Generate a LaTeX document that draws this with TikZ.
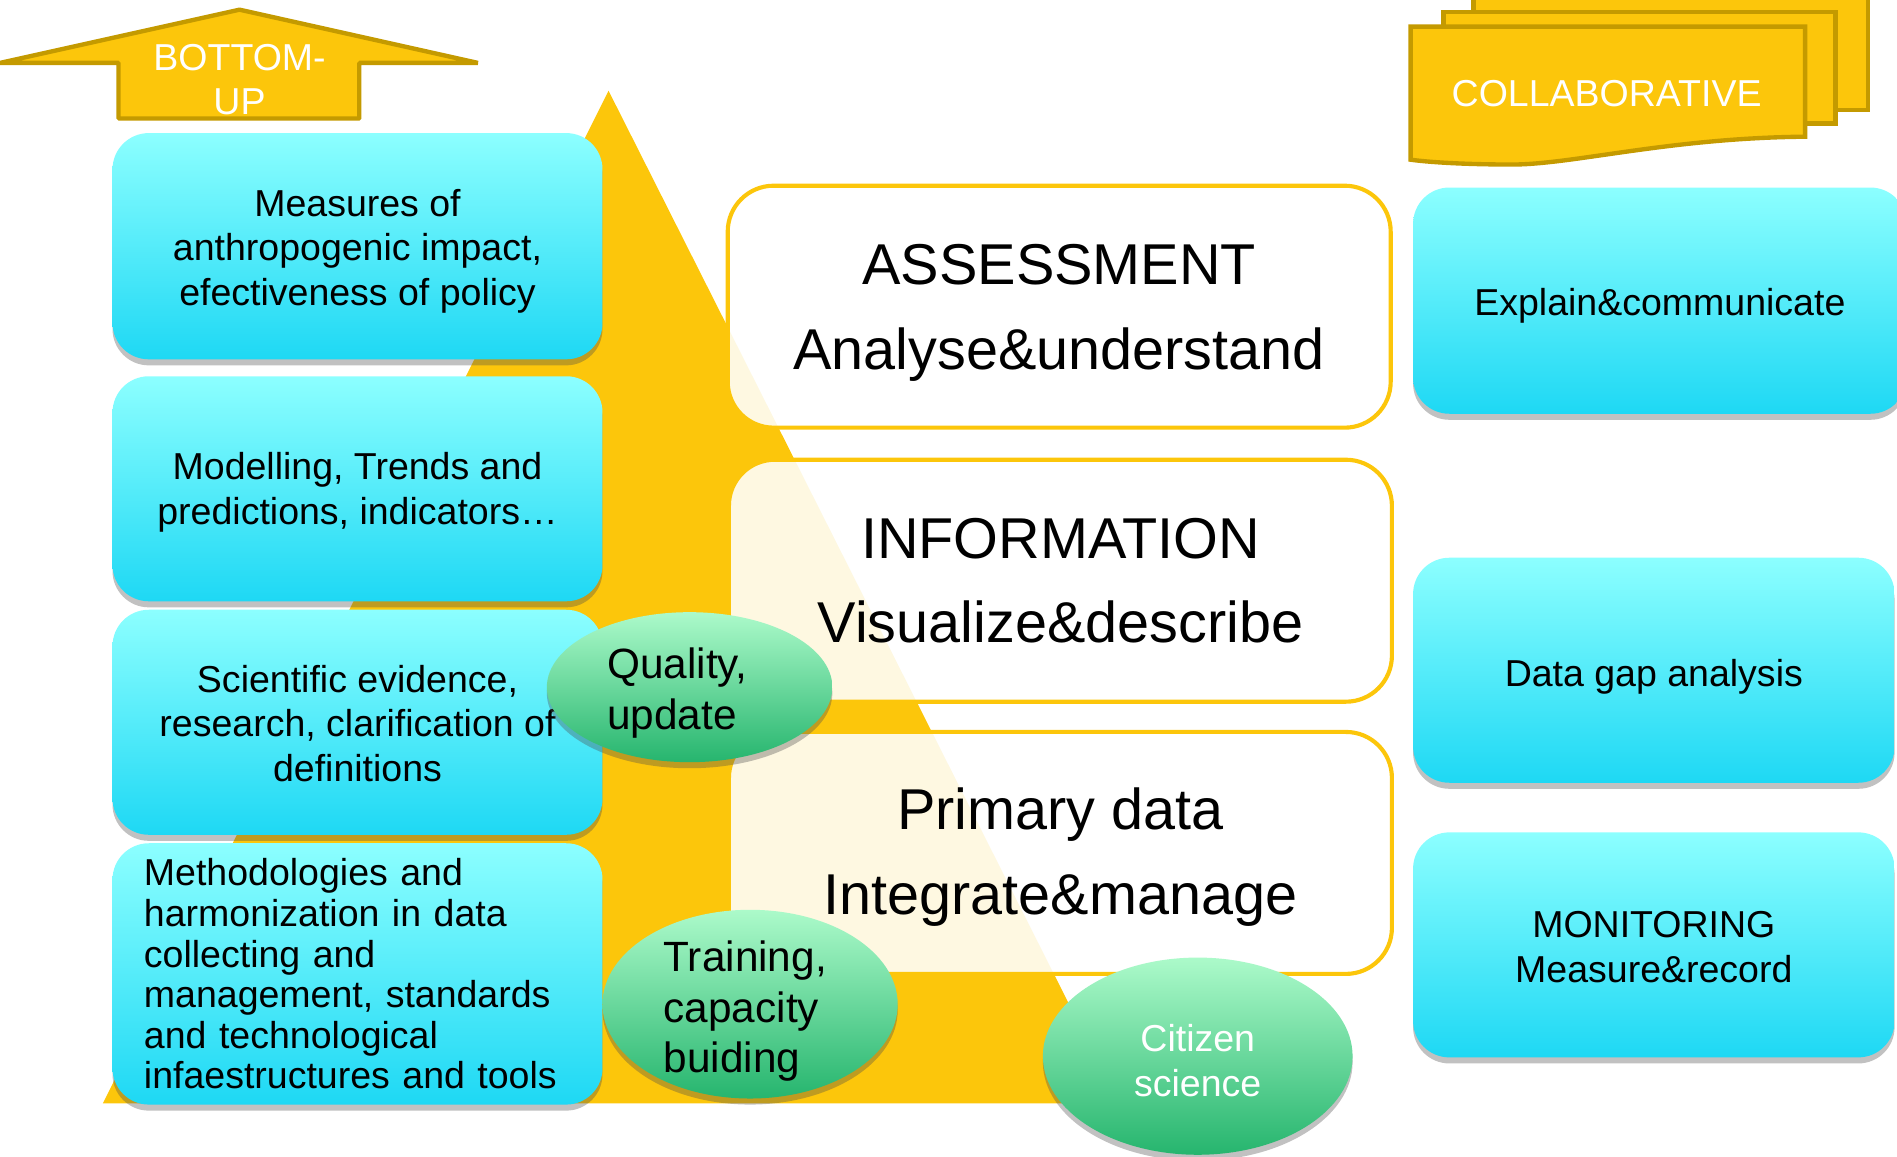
\documentclass[tikz,border=0pt]{standalone}
\usepackage{fontspec}
\setmainfont{Liberation Sans}
\usetikzlibrary{shapes.geometric,shadows}
\definecolor{gold}{HTML}{FCC60B}
\definecolor{golddark}{HTML}{C49A00}
\definecolor{cyanTop}{HTML}{8CFFFF}
\definecolor{cyanBot}{HTML}{1ED8F4}
\definecolor{greenTop}{HTML}{ACFACA}
\definecolor{greenBot}{HTML}{26B56E}
\newcommand{\mystrut}[1]{\rule{0pt}{#1}}
\begin{document}
\begin{tikzpicture}[x=0.5pt,y=-0.5pt,
  shadowed/.style={drop shadow={shadow xshift=0pt,shadow yshift=-2.5pt,opacity=0.35,fill=black!70}},
  bluebox/.style={rounded corners=15pt, top color=cyanTop, bottom color=cyanBot, draw=none, shadowed,
    align=center, inner sep=0pt, font=\fontsize{15.5}{18.5}\selectfont},
  cbox/.style={rounded corners=19pt, draw=gold, line width=1.7pt, fill=white, fill opacity=0.88,
    text opacity=1, align=center, inner sep=0pt, font=\fontsize{23.8}{35}\selectfont,
    minimum width=274pt, minimum height=100pt},
  gellipse/.style={ellipse, top color=greenTop, bottom color=greenBot, draw=none, shadowed,
    inner sep=-8pt, align=left},
  goldshape/.style={fill=gold, draw=golddark, line width=1.8pt, line join=bevel},
  whitetext/.style={text=white, align=center, inner sep=0pt, font=\fontsize{15.5}{18}\selectfont}
]
\useasboundingbox (0,0) rectangle (1568,956.3);

% big triangle
\fill[gold] (503,75) -- (85,912) -- (925,912) -- cycle;

% BOTTOM-UP arrow
\draw[goldshape] (198,8) -- (395,52) -- (297,52) -- (297,98) -- (98,98) -- (98,52) -- (0,52) -- cycle;
\node[whitetext] (bu) at (198,66) {BOTTOM-\\UP};

% COLLABORATIVE stacked documents
\draw[goldshape, line join=miter] (1218,-3) rectangle (1544,91);
\draw[goldshape, line join=miter] (1193,10) rectangle (1517,102);
\draw[goldshape, line join=miter] (1166,22) -- (1492,22) -- (1492,113)
  .. controls (1380,114) and (1300,136) .. (1250,136)
  .. controls (1210,136) and (1180,134) .. (1166,132) -- cycle;
\node[whitetext] (collab) at (1328,77) {COLLABORATIVE};

% left column
\node[bluebox, minimum width=202.5pt, minimum height=93.5pt] (b1) at (295.5,203.5)
  {\mystrut{15.3pt}Measures of\\anthropogenic impact,\\efectiveness of policy};
\node[bluebox, minimum width=202.5pt, minimum height=93pt] (b2) at (295.5,404)
  {\mystrut{14.3pt}Modelling, Trends and\\predictions, indicators…};
\node[bluebox, minimum width=202.5pt, minimum height=93pt] (b3) at (295.5,597)
  {\mystrut{12.3pt}Scientific evidence,\\research, clarification of\\definitions};
\node[bluebox, minimum width=202.5pt, minimum height=108pt, text width=176.5pt, align=left,
  font=\fontsize{15.5}{16.75}\selectfont] (b4) at (295.5,805)
  {Methodologies and\\harmonization in data\\collecting and\\management, standards\\and technological\\infaestructures and tools};

% right column
\node[bluebox, minimum width=204pt, minimum height=93.5pt] (r1) at (1372,248.5)
  {\mystrut{15.3pt}Explain\&communicate};
\node[bluebox, minimum width=199pt, minimum height=93pt] (r2) at (1367,554)
  {\mystrut{16.3pt}Data gap analysis};
\node[bluebox, minimum width=199pt, minimum height=93pt] (r3) at (1367,781)
  {\mystrut{12.6pt}MONITORING\\Measure\&record};

% centre boxes
\node[cbox] (c1) at (875.5,253.5) {\mystrut{22pt}ASSESSMENT\\Analyse\&understand};
\node[cbox] (c2) at (876.5,480) {INFORMATION\\Visualize\&describe};
\node[cbox] (c3) at (876.5,705) {\mystrut{20.9pt}Primary data\\Integrate\&manage};

% ellipses
\node[gellipse, minimum width=118pt, minimum height=62pt, font=\fontsize{17.5}{21}\selectfont] (e1) at (570,568)
  {\mystrut{17.3pt}Quality,\hspace*{10pt}\\update};
\node[gellipse, minimum width=122pt, minimum height=78pt, font=\fontsize{17.5}{20.75}\selectfont] (e2) at (620,830)
  {\mystrut{18.5pt}Training,\hspace*{4pt}\\capacity\\buiding};
\node[gellipse, minimum width=128pt, minimum height=81.5pt, align=center, text=white,
  font=\fontsize{15.5}{18.5}\selectfont] (e3) at (990,873)
  {\mystrut{14.8pt}Citizen\\science};
\end{tikzpicture}
\end{document}
